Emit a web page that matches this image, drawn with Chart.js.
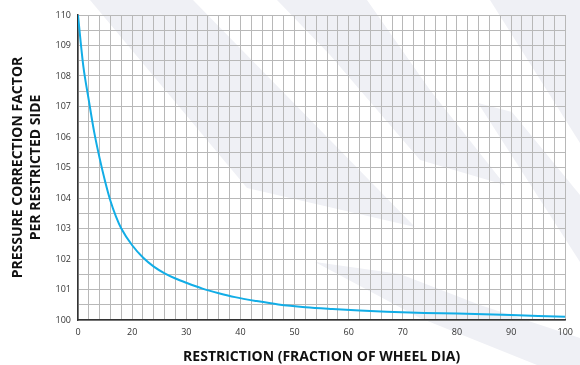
<!DOCTYPE html>
<html>
<head>
<meta charset="utf-8">
<script src="https://cdn.jsdelivr.net/npm/chart.js@4"></script>
<style>
  html, body { margin: 0; padding: 0; background: #fff; }
  #wrap { width: 580px; height: 365px; }
</style>
</head>
<body>
<div id="wrap"><canvas id="chart" width="580" height="365"></canvas></div>
<script>
// Curve (x in axis steps, 0..90; y = correction factor)
const restriction = [0, 0.5, 1, 2, 3, 4, 5, 6, 7, 8, 10, 12, 14, 16, 18, 20, 23, 26, 29, 33, 37, 42, 47, 52, 57, 64, 70, 80, 90];
const factor = [110, 109.1, 108.3, 107.2, 106.15, 105.3, 104.55, 103.9, 103.4, 103.0, 102.45, 102.05, 101.75, 101.53, 101.36, 101.22, 101.03, 100.88, 100.75, 100.62, 100.51, 100.42, 100.36, 100.31, 100.27, 100.23, 100.21, 100.16, 100.11];

// The source labels its ten major ticks like this (note: no "10")
const xTickLabels = ['0', '20', '30', '40', '50', '60', '70', '80', '90', '100'];
const yTickLabels = ['100', '101', '102', '103', '104', '105', '106', '107', '108', '109', '110'];

const xTitle = 'RESTRICTION (FRACTION OF WHEEL DIA)';
const yTitle = ['PRESSURE CORRECTION FACTOR', 'PER RESTRICTED SIDE'];

(function() {
    'use strict';

    // Faint diagonal watermark bands behind the grid (decoration only)
    const watermark = {
        id: 'watermark',
        beforeDraw(chart) {
            const ctx = chart.ctx;
            const bands = [
                [[90, 0], [193, 0], [330, 140], [415, 227], [247, 188]],
                [[277, 0], [367, 0], [430, 90], [505, 185], [420, 160], [330, 55]],
                [[490, 0], [580, 0], [580, 143]],
                [[478, 103], [512, 112], [580, 195], [580, 262]],
                [[315, 262], [400, 274], [480, 305], [580, 338], [580, 365], [537, 365], [420, 318]]
            ];
            ctx.save();
            ctx.fillStyle = '#eff0f5';
            bands.forEach(function(pts) {
                ctx.beginPath();
                ctx.moveTo(pts[0][0], pts[0][1]);
                for (let i = 1; i < pts.length; i++) ctx.lineTo(pts[i][0], pts[i][1]);
                ctx.closePath();
                ctx.fill();
            });
            ctx.restore();
        }
    };

    const points = restriction.map((x, i) => ({ x: x, y: factor[i] }));

    new Chart(document.getElementById('chart'), {
        type: 'line',
        data: {
            datasets: [{
                data: points,
                borderColor: '#12ade6',
                borderWidth: 2,
                pointRadius: 0,
                cubicInterpolationMode: 'monotone',
                fill: false
            }]
        },
        options: {
            responsive: false,
            animation: false,
            devicePixelRatio: 1,
            layout: { padding: { left: 0, top: 15, right: 8, bottom: 0 } },
            plugins: { legend: { display: false }, tooltip: { enabled: false } },
            scales: {
                x: {
                    type: 'linear',
                    min: 0,
                    max: 90,
                    afterBuildTicks(scale) {
                        const t = [];
                        for (let v = 0; v <= 90; v += 2) t.push({ value: v });
                        scale.ticks = t;
                    },
                    afterFit(scale) { scale.height = 45; },
                    grid: { color: '#b8b8b8', lineWidth: 1, drawTicks: false },
                    border: { color: '#333', width: 1.5 },
                    ticks: {
                        autoSkip: false,
                        maxRotation: 0,
                        padding: 7,
                        color: '#333',
                        font: { family: 'Open Sans', size: 9 },
                        callback: (v) => (v % 10 === 0 ? xTickLabels[v / 10] : '')
                    },
                    title: {
                        display: true,
                        text: xTitle,
                        color: '#111',
                        padding: { top: 0, bottom: 0 },
                        font: { family: 'Open Sans', size: 14, weight: 'bold' }
                    }
                },
                y: {
                    min: 100,
                    max: 110,
                    afterBuildTicks(scale) {
                        const t = [];
                        for (let v = 100; v <= 110.001; v += 0.5) t.push({ value: v });
                        scale.ticks = t;
                    },
                    afterFit(scale) { scale.width = 78; },
                    grid: { color: '#b8b8b8', lineWidth: 1, drawTicks: false },
                    border: { color: '#333', width: 1.5 },
                    ticks: {
                        autoSkip: false,
                        padding: 7,
                        color: '#333',
                        font: { family: 'Open Sans', size: 9 },
                        callback: (v) => (Number.isInteger(v) ? yTickLabels[v - 100] : '')
                    },
                    title: {
                        display: true,
                        text: yTitle,
                        color: '#111',
                        padding: { top: 9, bottom: 0 },
                        font: { family: 'Open Sans', size: 14, weight: 'bold', lineHeight: 1.3 }
                    }
                }
            }
        },
        plugins: [watermark]
    });
})();
</script>
</body>
</html>
